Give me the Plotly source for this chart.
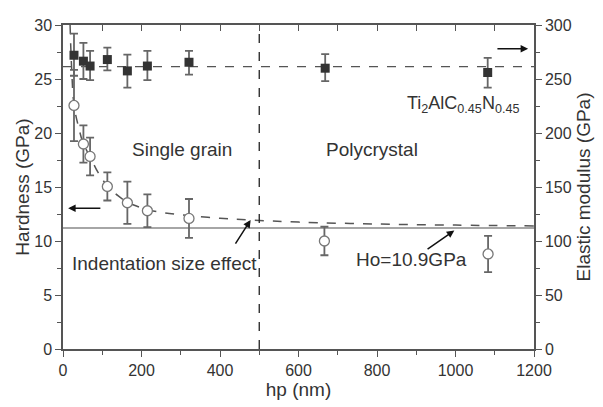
import plotly.graph_objects as go

# Elastic modulus (right axis, GPa)
hp_E = [28, 52, 69, 113, 164, 215, 321, 668, 1082]
E_vals = [272, 266.5, 262, 268, 257.5, 262, 265.5, 260, 256]
E_err_plus = [20, 17, 14, 11, 15, 14, 10.5, 13, 13.5]
E_err_minus = [19, 16.5, 13, 10, 15.5, 13, 11.5, 12, 14]
E_mean = 261.4

# Hardness (left axis, GPa)
hp_H = [28, 52, 69, 113, 164, 215, 321, 666, 1083]
H_vals = [22.55, 18.98, 17.83, 15.05, 13.54, 12.8, 12.09, 10.0, 8.8]
H_err = [3.3, 1.72, 1.75, 1.3, 1.96, 1.52, 1.8, 1.32, 1.68]

# Fitted curve
fit_x = [18, 22, 28, 40, 52, 69, 90, 113, 140, 164, 190, 215, 260, 321, 400, 475, 600, 800, 1000, 1200]
fit_y = [30, 26, 22.6, 20.5, 19.0, 17.8, 16.3, 15.1, 14.2, 13.6, 13.2, 12.9, 12.6, 12.35, 12.1, 11.95, 11.75, 11.57, 11.47, 11.4]

H0_line = 11.2
boundary = 500

FONT = "Liberation Sans, Arial, sans-serif"
AX = "#555555"

fig = go.Figure()

fig.add_trace(go.Scatter(x=[0, 1200], y=[H0_line, H0_line], mode="lines",
                         line=dict(color="#888888", width=1.5), showlegend=False))
fig.add_trace(go.Scatter(x=fit_x, y=fit_y, mode="lines", line_shape="spline",
                         line=dict(color="#555555", width=1.5, dash="dash"), showlegend=False))
fig.add_trace(go.Scatter(x=[0, 1200], y=[E_mean, E_mean], mode="lines", yaxis="y2",
                         line=dict(color="#555555", width=1.3, dash="dash"), showlegend=False))
fig.add_trace(go.Scatter(x=hp_E, y=E_vals, mode="markers", yaxis="y2",
                         error_y=dict(type="data", array=E_err_plus, arrayminus=E_err_minus,
                                      color="#666666", thickness=1.8, width=4),
                         marker=dict(symbol="square", size=9, color="#333333"), showlegend=False))
fig.add_trace(go.Scatter(x=hp_H, y=H_vals, mode="markers",
                         error_y=dict(type="data", array=H_err, color="#666666", thickness=1.8, width=4),
                         marker=dict(symbol="circle", size=10, color="white",
                                     line=dict(color="#777777", width=1.3)), showlegend=False))
# invisible trace so the top axis is drawn
fig.add_trace(go.Scatter(x=[0, 1200], y=[0, 0], xaxis="x2", mode="lines",
                         line=dict(width=0), hoverinfo="skip", showlegend=False))

fig.add_shape(type="line", x0=boundary, x1=boundary, y0=0, y1=1, xref="x", yref="paper",
              line=dict(color="#222222", width=1.3, dash="dash"))

txt = dict(family=FONT, size=19, color="#333333")
fig.add_annotation(x=303, y=18.5, text="Single grain", showarrow=False, font=txt)
fig.add_annotation(x=788, y=18.5, text="Polycrystal", showarrow=False, font=txt)
fig.add_annotation(x=1020, y=22.6, text="Ti<sub>2</sub>AlC<sub>0.45</sub>N<sub>0.45</sub>",
                   showarrow=False, font=dict(family=FONT, size=18, color="#333333"))
fig.add_annotation(x=259, y=7.9, text="Indentation size effect", showarrow=False, font=txt)
fig.add_annotation(x=887, y=8.25, text="Ho=10.9GPa", showarrow=False, font=txt)

arrow = dict(showarrow=True, arrowhead=2, arrowsize=1, arrowwidth=1.5, arrowcolor="#111111",
             axref="x", ayref="y", text="")
fig.add_annotation(x=13, y=13.03, ax=99, ay=13.03, **arrow)
fig.add_annotation(x=1185, y=27.8, ax=1103, ay=27.8, **arrow)
fig.add_annotation(x=478, y=11.94, ax=437, ay=9.61, **arrow)
fig.add_annotation(x=997, y=10.97, ax=925, ay=9.16, **arrow)

tickfont = dict(family=FONT, size=16, color="#333333")
titlefont = dict(family=FONT, size=19, color="#333333")

fig.update_layout(
    width=603, height=407,
    margin=dict(l=63, r=68, t=25, b=51),
    paper_bgcolor="white", plot_bgcolor="white",
    xaxis=dict(range=[0, 1200], dtick=200, tick0=0, showgrid=False, zeroline=False,
               showline=True, linecolor=AX, linewidth=1.5, ticks="outside", ticklen=6,
               tickwidth=1.2, tickcolor=AX, tickfont=tickfont,
               minor=dict(dtick=100, ticks="outside", ticklen=4, tickcolor=AX, tickwidth=1.2),
               title=dict(text="hp (nm)", font=titlefont, standoff=3)),
    xaxis2=dict(range=[0, 1200], overlaying="x", side="top", dtick=100, tick0=0,
                showgrid=False, zeroline=False, showline=True, linecolor=AX, linewidth=1.5,
                ticks="inside", ticklen=6, tickwidth=1.2, tickcolor=AX, showticklabels=False),
    yaxis=dict(range=[0, 30], dtick=5, tick0=0, showgrid=False, zeroline=False,
               showline=True, linecolor=AX, linewidth=1.5, ticks="outside", ticklen=6,
               tickwidth=1.2, tickcolor=AX, tickfont=tickfont,
               minor=dict(dtick=2.5, ticks="outside", ticklen=4, tickcolor=AX, tickwidth=1.2),
               title=dict(text="Hardness (GPa)", font=titlefont, standoff=0)),
    yaxis2=dict(range=[0, 300], dtick=50, tick0=0, overlaying="y", side="right",
                showgrid=False, zeroline=False, showline=True, linecolor=AX, linewidth=1.5,
                ticks="outside", ticklen=6, tickwidth=1.2, tickcolor=AX, tickfont=tickfont,
                minor=dict(dtick=25, ticks="outside", ticklen=4, tickcolor=AX, tickwidth=1.2),
                title=dict(text="Elastic modulus (GPa)", font=titlefont, standoff=6)),
)

fig.write_html("out.html")
